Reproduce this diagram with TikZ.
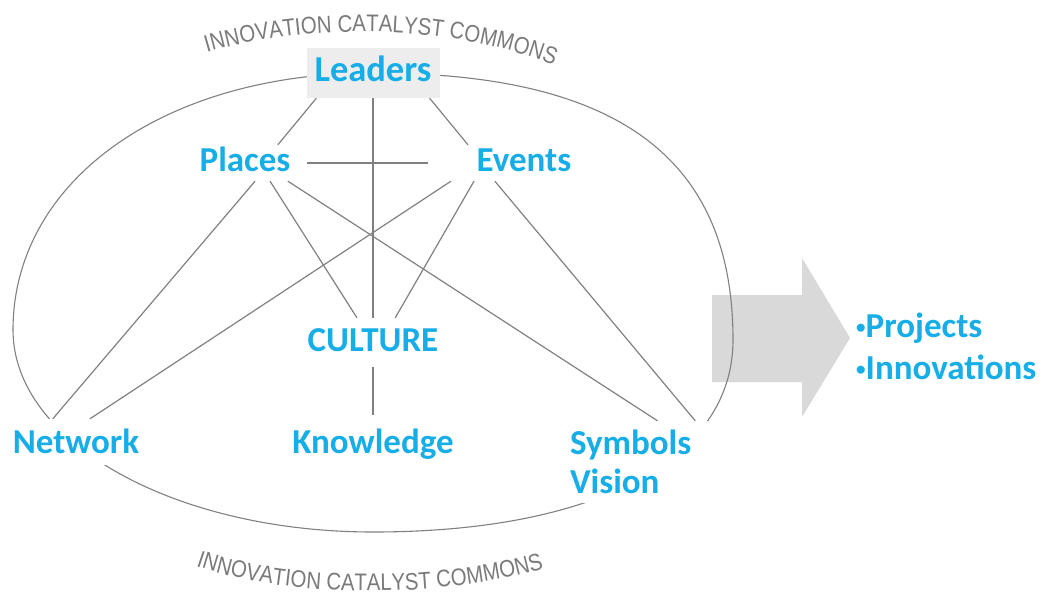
\documentclass[tikz,border=0pt]{standalone}
\usepackage{fontspec}
\newfontfamily\lblfont{Carlito}
\newfontfamily\arcfont{Liberation Sans}[FakeStretch=0.85]
\usetikzlibrary{decorations.text}
\definecolor{lblblue}{HTML}{17ADE6}
\definecolor{linegray}{HTML}{808080}
\definecolor{arcgray}{HTML}{7A7A7A}
\definecolor{boxgray}{HTML}{EDEDED}
\definecolor{arrowgray}{HTML}{D9D9D9}
\newcommand\dotmark{{\fontsize{19}{19}\selectfont\raisebox{4pt}{•}}}

\begin{document}
\begin{tikzpicture}[x=1pt,y=-1pt,
  lbl/.style={font=\lblfont\bfseries\fontsize{35}{39}\selectfont,text=lblblue,inner sep=0pt,text height=23pt,text depth=6pt},
  cover/.style={lbl,fill=white},
  conn/.style={draw=linegray,line width=1.2pt},
  ring/.style={draw=linegray,line width=1.1pt},
  arctext/.style={decorate,decoration={text along path,text align=center,
    text={|\arcfont\fontsize{24}{28}\selectfont\color{arcgray}|INNOVATION CATALYST COMMONS}}}]
\useasboundingbox (0,0) rectangle (1052,599);
% arrow and commons
\fill[arrowgray] (712,295) -- (802,295) -- (802,258) -- (850,338) -- (802,417) -- (802,382) -- (712,382) -- cycle;
\draw[ring] (373,73) .. controls (618,73) and (733,158) .. (733,340)
  .. controls (733,459) and (596,532) .. (373,532)
  .. controls (174,532) and (13,442) .. (13,330)
  .. controls (13,181) and (164,73) .. cycle;
\begin{scope}
\node[lbl,font=\lblfont\bfseries\fontsize{36.5}{40}\selectfont,fill=boxgray,minimum width=133pt,minimum height=50pt] (ld) at (373,73) {Leaders};
\node[lbl,minimum width=124pt,minimum height=36pt] (pl) at (245,163) {Places};
\node[lbl,minimum width=192pt,minimum height=36pt] (ev) at (524,163) {Events};
\node[lbl,minimum width=140pt,minimum height=49pt] (cu) at (373,342.5) {CULTURE};
\node[lbl,minimum width=170pt,minimum height=60pt] (kn) at (373,445) {Knowledge};
\node[cover,text depth=0pt,minimum width=136pt,minimum height=46pt] (nw) at (76,442) {Network};
\node[font=\lblfont\bfseries\fontsize{35}{39}\selectfont,text=lblblue,fill=white,align=left,text width=145pt,inner xsep=7pt,inner ysep=0pt,minimum height=82pt] (sv) at (642.5,462) {Symbols\\Vision};
\node[lbl,anchor=base west] (prj) at (856,337) {\dotmark Projects};
\node[lbl,anchor=base west] (inv) at (856,379) {\dotmark Innovations};
\end{scope}
\begin{scope}[conn]
\draw (ld.204) edge (pl.29);
\draw (ld.south) edge (cu.north);
\draw (ld.-24) edge (ev.162);
\draw (pl.east) edge (ev.west);
\draw (pl.-61) edge (nw.135);
\draw (pl.-36) edge (cu.123);
\draw (pl.-23) edge (sv.70);
\draw (ev.194) edge (nw.59);
\draw (ev.200) edge (cu.48);
\draw (ev.212) edge (sv.38);
\draw (cu.south) edge (kn.north);
\end{scope}
% curved titles
\path[arctext] (190,58) .. controls (300,20) and (460,22) .. (570,72);
\path[arctext] (185,562) .. controls (280,600) and (450,600) .. (555,565);
\end{tikzpicture}
\end{document}
